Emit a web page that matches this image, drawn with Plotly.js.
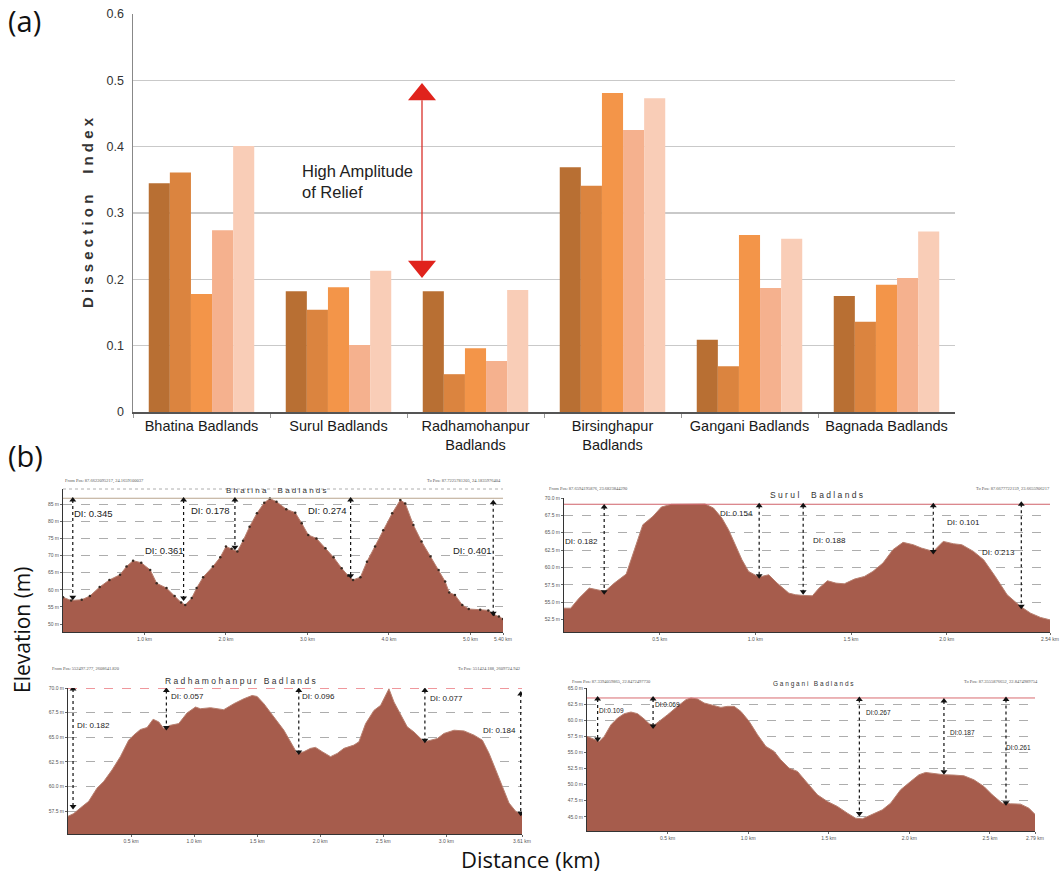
<!DOCTYPE html>
<html>
<head>
<meta charset="utf-8">
<script src="https://cdn.plot.ly/plotly-3.0.1.min.js"></script>
<style>html,body{margin:0;padding:0;background:#fff;}#chart{width:1060px;height:874px;}</style>
</head>
<body>
<div id="chart"></div>
<script>
// ---------- (a) Dissection Index bar chart ----------
const categories = ['Bhatina Badlands','Surul Badlands','Radhamohanpur<br>Badlands','Birsinghapur<br>Badlands','Gangani Badlands','Bagnada Badlands'];
const series1 = [0.345, 0.182, 0.182, 0.369, 0.109, 0.175];
const series2 = [0.361, 0.154, 0.057, 0.341, 0.069, 0.136];
const series3 = [0.178, 0.188, 0.096, 0.481, 0.267, 0.192];
const series4 = [0.274, 0.101, 0.077, 0.425, 0.187, 0.202];
const series5 = [0.401, 0.213, 0.184, 0.473, 0.261, 0.272];
const yTicks = [0, 0.1, 0.2, 0.3, 0.4, 0.5, 0.6];
const yTickLabels = ['0', '0.1', '0.2', '0.3', '0.4', '0.5', '0.6'];
const reliefLow = 0.202, reliefHigh = 0.496;

// ---------- (b) Elevation profiles ----------
// Bhatina Badlands
const bhatinaKm = [0,0.10,0.23,0.33,0.45,0.57,0.70,0.78,0.86,0.96,1.07,1.15,1.27,1.37,1.45,1.50,1.58,1.64,1.72,1.84,1.93,2.00,2.07,2.14,2.21,2.29,2.38,2.47,2.54,2.62,2.74,2.85,2.93,3.01,3.11,3.22,3.32,3.42,3.50,3.56,3.65,3.73,3.83,3.93,4.04,4.14,4.20,4.30,4.40,4.51,4.61,4.69,4.74,4.81,4.90,4.98,5.12,5.22,5.29,5.35,5.40];
const bhatinaElev = [57.8,56.9,57.1,58.2,60.8,62.9,64.4,66.8,68.5,67.9,65.8,61.9,60.5,58.2,56.3,55.6,57.6,60.5,63.7,66.8,69.5,72.6,72.0,71.2,74.3,78.4,82.3,85.4,86.6,85.7,83.5,82.5,79.4,76.0,75.0,72.1,69.5,66.3,64.1,62.9,63.7,68.2,72.6,77.4,82.3,86.2,85.2,78.9,74.1,69.7,65.8,62.4,59.2,58.5,55.6,54.4,54.2,54.0,52.7,52.2,51.5];
const bhatinaMax = 86.7;
const bhatinaDI = ['DI: 0.345','DI: 0.361','DI: 0.178','DI: 0.274','DI: 0.401'];
const bhatinaArrowKm = [0.12, 1.48, 2.11, 3.53, 5.28];
const bhatinaArrowTop = [86.2, 86.2, 86.2, 86.2, 85.4];
const bhatinaArrowLow = [57.8, 57.6, 72.4, 64.1, 53.2];
const bhatinaLabelKm = [0.37, 1.25, 1.81, 3.24, 5.02];
const bhatinaLabelElev = [82.3, 71.6, 83.0, 83.0, 71.6];
const bhatinaYTicks = [50,55,60,65,70,75,80,85];
const bhatinaXTicks = [1,2,3,4,5,5.4];
const bhatinaXLabels = ['1.0 km','2.0 km','3.0 km','4.0 km','5.0 km','5.40 km'];

// Surul Badlands
const surulKm = [0,0.035,0.079,0.132,0.175,0.214,0.263,0.325,0.368,0.412,0.465,0.509,0.561,0.632,0.737,0.781,0.825,0.860,0.895,0.930,0.965,1.018,1.070,1.114,1.175,1.211,1.254,1.298,1.333,1.377,1.421,1.465,1.518,1.570,1.614,1.667,1.719,1.772,1.825,1.868,1.930,1.982,2.035,2.079,2.140,2.193,2.254,2.316,2.386,2.439,2.491,2.54];
const surulElev = [54.13,54.13,55.58,57.02,56.78,56.54,57.74,59.04,62.55,66.15,67.36,68.70,69.09,69.13,69.13,68.56,67.12,65.43,63.27,61.11,59.42,58.61,58.94,57.74,56.30,56.06,55.96,55.91,57.02,58.08,57.74,57.64,58.32,58.70,59.42,60.63,62.55,63.61,63.27,62.79,62.31,63.75,63.41,63.27,62.31,61.11,58.70,56.06,54.38,53.41,52.79,52.45];
const surulMax = 69.1;
const surulDI = ['DI: 0.182','DI: 0.154','DI: 0.188','DI: 0.101','DI: 0.213'];
const surulArrowKm = [0.21, 1.02, 1.25, 1.93, 2.39];
const surulArrowTop = [68.7, 68.9, 68.9, 68.9, 69.1];
const surulArrowLow = [56.5, 58.8, 56.5, 62.3, 54.4];
const surulLabelKm = [0.09, 0.90, 1.39, 2.09, 2.27];
const surulLabelElev = [63.75, 67.84, 63.85, 66.54, 62.16];
const surulYTicks = [52.5,55,57.5,60,62.5,65,67.5,70];
const surulYLabels = ['52.5 m','55.0 m','57.5 m','60.0 m','62.5 m','65.0 m','67.5 m','70.0 m'];
const surulXTicks = [0.5,1.0,1.5,2.0,2.54];
const surulXLabels = ['0.5 km','1.0 km','1.5 km','2.0 km','2.54 km'];

// Radhamohanpur Badlands
const radhaKm = [0,0.045,0.098,0.164,0.230,0.283,0.349,0.415,0.481,0.521,0.574,0.627,0.675,0.720,0.759,0.812,0.878,0.944,1.011,1.050,1.130,1.183,1.235,1.315,1.394,1.460,1.500,1.553,1.632,1.712,1.817,1.870,1.923,1.963,2.016,2.082,2.135,2.188,2.267,2.307,2.360,2.426,2.479,2.545,2.585,2.638,2.690,2.743,2.823,2.876,2.929,2.981,3.021,3.061,3.140,3.220,3.286,3.339,3.392,3.444,3.497,3.550,3.603];
const radhaElev = [56.99,57.27,57.84,58.51,59.85,60.52,61.69,63.04,64.71,65.22,65.79,65.99,66.83,66.56,65.89,66.22,66.39,67.47,68.07,67.90,68.00,67.90,67.80,68.41,68.91,69.24,69.14,68.41,67.06,65.72,63.37,63.54,63.88,63.98,63.54,63.04,63.37,63.88,64.21,64.55,66.39,67.73,68.24,69.92,68.57,67.23,66.06,65.55,64.55,64.71,64.88,65.39,65.55,65.72,65.65,65.22,64.71,63.37,61.69,60.02,58.34,57.50,57.16];
const radhaMax = 70.0;
const radhaDI = ['DI: 0.182','DI: 0.057','DI: 0.096','DI: 0.077','DI: 0.184'];
const radhaArrowKm = [0.04, 0.78, 1.83, 2.83, 3.59];
const radhaArrowTop = [69.9, 69.75, 69.75, 69.75, 69.4];
const radhaArrowLow = [58.0, 66.0, 63.5, 64.7, 57.3];
const radhaLabelKm = [0.20, 0.95, 1.99, 3.00, 3.42];
const radhaLabelElev = [66.22, 69.14, 69.14, 68.9, 65.65];
const radhaYTicks = [57.5,60,62.5,65,67.5,70];
const radhaYLabels = ['57.5 m','60.0 m','62.5 m','65.0 m','67.5 m','70.0 m'];
const radhaXTicks = [0.5,1.0,1.5,2.0,2.5,3.0,3.6];
const radhaXLabels = ['0.5 km','1.0 km','1.5 km','2.0 km','2.5 km','3.0 km','3.61 km'];

// Gangani Badlands
const ganganiKm = [0,0.045,0.076,0.107,0.149,0.190,0.231,0.273,0.314,0.355,0.386,0.413,0.448,0.500,0.562,0.614,0.645,0.686,0.727,0.789,0.831,0.872,0.913,0.955,1.006,1.058,1.110,1.161,1.202,1.254,1.306,1.368,1.430,1.492,1.554,1.616,1.667,1.709,1.740,1.781,1.833,1.884,1.946,2.008,2.060,2.101,2.153,2.215,2.277,2.339,2.401,2.463,2.515,2.576,2.628,2.690,2.742,2.783];
const ganganiElev = [57.49,56.97,56.71,57.49,59.30,60.34,61.01,61.27,61.01,60.18,59.46,59.15,59.82,60.85,62.15,63.19,63.45,63.29,62.67,62.25,61.99,62.15,62.15,61.37,59.82,57.75,55.93,55.16,53.86,52.56,52.05,50.23,48.42,47.38,46.61,45.57,44.79,44.69,45.05,45.57,46.09,47.12,49.20,50.49,51.53,51.89,51.68,51.53,51.48,51.37,50.75,49.72,48.42,47.12,47.02,46.97,46.35,45.31];
const ganganiMax = 63.45;
const ganganiDI = ['DI:0.109','DI:0.069','DI:0.267','DI:0.187','DI:0.261'];
const ganganiArrowKm = [0.066, 0.41, 1.69, 2.215, 2.60];
const ganganiArrowTop = [63.3, 63.3, 63.2, 63.0, 63.2];
const ganganiArrowLow = [57.1, 59.1, 45.5, 52.0, 47.2];
const ganganiLabelKm = [0.155, 0.50, 1.806, 2.33, 2.68];
const ganganiLabelElev = [61.48, 62.41, 61.22, 58.1, 55.83];
const ganganiYTicks = [45,47.5,50,52.5,55,57.5,60,62.5,65];
const ganganiYLabels = ['45.0 m','47.5 m','50.0 m','52.5 m','55.0 m','57.5 m','60.0 m','62.5 m','65.0 m'];
const ganganiXTicks = [0.5,1.0,1.5,2.0,2.5,2.78];
const ganganiXLabels = ['0.5 km','1.0 km','1.5 km','2.0 km','2.5 km','2.79 km'];

// ---------- build ----------
const W = 1060, H = 874;
const px = v => v / W;
const py = v => 1 - v / H;
const barColors = ['#B86F33', '#DB843F', '#F39549', '#F5B18E', '#F9CDB7'];
const FONT = 'Liberation Sans, Arial, sans-serif';
const OPEN = 'Open Sans, sans-serif';

const traces = [];
[series1, series2, series3, series4, series5].forEach((s, i) => {
  traces.push({type: 'bar', x: categories, y: s, marker: {color: barColors[i], line: {width: 0}},
    xaxis: 'x', yaxis: 'y', showlegend: false, hoverinfo: 'skip'});
});

const areaFill = '#A65C4C';
const panels = [
  {ax: 2, km: bhatinaKm, el: bhatinaElev, max: bhatinaMax, maxColor: '#b9a58f', maxDash: 'solid', di: bhatinaDI,
   aK: bhatinaArrowKm, aT: bhatinaArrowTop, aL: bhatinaArrowLow, lK: bhatinaLabelKm, lE: bhatinaLabelElev, fs: 9.5, dots: true},
  {ax: 3, km: surulKm, el: surulElev, max: surulMax, maxColor: '#d0626a', maxDash: 'solid', di: surulDI,
   aK: surulArrowKm, aT: surulArrowTop, aL: surulArrowLow, lK: surulLabelKm, lE: surulLabelElev, fs: 8, dots: false},
  {ax: 4, km: radhaKm, el: radhaElev, max: radhaMax, maxColor: '#e0303a', maxDash: 'dash', di: radhaDI,
   aK: radhaArrowKm, aT: radhaArrowTop, aL: radhaArrowLow, lK: radhaLabelKm, lE: radhaLabelElev, fs: 8, dots: false},
  {ax: 5, km: ganganiKm, el: ganganiElev, max: ganganiMax, maxColor: '#d86a70', maxDash: 'solid', di: ganganiDI,
   aK: ganganiArrowKm, aT: ganganiArrowTop, aL: ganganiArrowLow, lK: ganganiLabelKm, lE: ganganiLabelElev, fs: 6.5, dots: false}
];

const annotations = [];
panels.forEach(p => {
  const xa = 'x' + p.ax, ya = 'y' + p.ax;
  traces.push({type: 'scatter', x: p.km, y: p.el, xaxis: xa, yaxis: ya, mode: p.dots ? 'lines+markers' : 'lines',
    fill: 'tozeroy', fillcolor: areaFill, line: {color: '#b88070', width: 1},
    marker: {size: 2.5, color: '#3a2a22'}, showlegend: false, hoverinfo: 'skip'});
  traces.push({type: 'scatter', x: [p.km[0], p.km[p.km.length - 1]], y: [p.max, p.max], xaxis: xa, yaxis: ya,
    mode: 'lines', line: {color: p.maxColor, width: 1, dash: p.maxDash}, showlegend: false, hoverinfo: 'skip'});
  p.aK.forEach((k, i) => {
    traces.push({type: 'scatter', x: [k, k], y: [p.aT[i], p.aL[i]], xaxis: xa, yaxis: ya, mode: 'lines+markers',
      line: {color: '#111', width: 1.2, dash: 'dot'},
      marker: {symbol: ['triangle-up', 'triangle-down'], size: 6, color: '#111'}, showlegend: false, hoverinfo: 'skip'});
    annotations.push({xref: xa, yref: ya, x: p.lK[i], y: p.lE[i], text: p.di[i], showarrow: false,
      font: {family: FONT, size: p.fs, color: '#222'}});
  });
});

function profAxes(domX, domY, range, ticks) {
  return {
    x: {domain: domX, range: range.x, showgrid: false, zeroline: false, showline: true, linecolor: '#333', linewidth: 1,
        tickmode: 'array', tickvals: ticks.x, ticktext: ticks.xl, ticks: 'outside', ticklen: 2, tickcolor: '#666',
        tickfont: {family: FONT, size: 5, color: '#555'}, fixedrange: true},
    y: {domain: domY, range: range.y, showgrid: true, gridcolor: '#8a8a8a', gridwidth: 0.7, griddash: 'dash',
        zeroline: false, showline: true, linecolor: '#333', linewidth: 1,
        tickmode: 'array', tickvals: ticks.y, ticktext: ticks.yl, ticks: 'outside', ticklen: 2, tickcolor: '#666',
        tickfont: {family: FONT, size: 5, color: '#555'}, fixedrange: true}
  };
}
const p1 = profAxes([px(63), px(503)], [py(632), py(489)], {x: [0, 5.4], y: [47.7, 89.4]},
  {x: bhatinaXTicks, xl: bhatinaXLabels, y: bhatinaYTicks, yl: bhatinaYTicks.map(v => v + ' m')});
const p2 = profAxes([px(564), px(1050)], [py(632), py(498)], {x: [0, 2.54], y: [50.7, 70.0]},
  {x: surulXTicks, xl: surulXLabels, y: surulYTicks, yl: surulYLabels});
const p3 = profAxes([px(68), px(522)], [py(834), py(688)], {x: [0, 3.6], y: [55.2, 70.0]},
  {x: radhaXTicks, xl: radhaXLabels, y: radhaYTicks, yl: radhaYLabels});
const p4 = profAxes([px(587), px(1035)], [py(831), py(688)], {x: [0, 2.78], y: [42.8, 65.0]},
  {x: ganganiXTicks, xl: ganganiXLabels, y: ganganiYTicks, yl: ganganiYLabels});

const paperText = (x, y, text, size, opts = {}) => Object.assign({xref: 'paper', yref: 'paper', x: px(x), y: py(y), text: text,
  showarrow: false, font: {family: FONT, size: size, color: '#222'}, xanchor: 'center', yanchor: 'middle'}, opts);

annotations.push(paperText(6, 20, '(a)', 29, {xanchor: 'left', font: {family: OPEN, size: 29, color: '#111'}}));
annotations.push(paperText(6, 455, '(b)', 29, {xanchor: 'left', font: {family: OPEN, size: 29, color: '#111'}}));
annotations.push(paperText(88, 213, 'D i s s e c t i o n     I n d e x', 15, {textangle: -90, font: {family: FONT, size: 15, color: '#333', weight: 'bold'}}));
annotations.push(paperText(300, 181, 'High Amplitude<br>of Relief', 16.5, {xanchor: 'left', align: 'left', font: {family: FONT, size: 16.5, color: '#222'}}));
annotations.push(paperText(22, 630, 'Elevation (m)', 21, {textangle: -90, font: {family: OPEN, size: 21, color: '#111'}}));
annotations.push(paperText(530, 859, 'Distance (km)', 22, {font: {family: OPEN, size: 22, color: '#111'}}));

annotations.push(paperText(276, 490, 'B h a t i n a     B a d l a n d s', 8, {font: {family: FONT, size: 8, color: '#333'}}));
annotations.push(paperText(816, 495, 'S u r u l     B a d l a n d s', 8.5, {font: {family: FONT, size: 8.5, color: '#333'}}));
annotations.push(paperText(240, 681, 'R a d h a m o h a n p u r   B a d l a n d s', 8.5, {font: {family: FONT, size: 8.5, color: '#333'}}));
annotations.push(paperText(813, 684, 'G a n g a n i   B a d l a n d s', 6.5, {font: {family: FONT, size: 6.5, color: '#333'}}));

const posFont = {family: 'Liberation Serif, serif', size: 4.5, color: '#555'};
annotations.push(paperText(63, 481, 'From Pos: 87.6622095217, 24.1659100037', 4.5, {xanchor: 'left', font: posFont}));
annotations.push(paperText(503, 481, 'To Pos: 87.7225781205, 24.1835976404', 4.5, {xanchor: 'right', font: posFont}));
annotations.push(paperText(547, 489, 'From Pos: 87.6594195876, 23.6823844290', 4.5, {xanchor: 'left', font: posFont}));
annotations.push(paperText(1052, 489, 'To Pos: 87.6677722159, 23.6655906217', 4.5, {xanchor: 'right', font: posFont}));
annotations.push(paperText(50, 669, 'From Pos: 552497.277, 2608641.820', 4.5, {xanchor: 'left', font: posFont}));
annotations.push(paperText(522, 669, 'To Pos: 551424.188, 2609724.942', 4.5, {xanchor: 'right', font: posFont}));
annotations.push(paperText(570, 682, 'From Pos: 87.3394059865, 22.8472497730', 4.5, {xanchor: 'left', font: posFont}));
annotations.push(paperText(1040, 682, 'To Pos: 87.3555876652, 22.8474989754', 4.5, {xanchor: 'right', font: posFont}));

const arrowX = 422, halfW = 14, headH = 0.026;
const shapes = [
  {type: 'line', xref: 'paper', yref: 'y', x0: px(arrowX), x1: px(arrowX), y0: reliefLow + headH, y1: reliefHigh - headH,
   line: {color: '#D9302A', width: 1.3}},
  {type: 'path', xref: 'paper', yref: 'y',
   path: `M ${px(arrowX - halfW)} ${reliefHigh - headH} L ${px(arrowX + halfW)} ${reliefHigh - headH} L ${px(arrowX)} ${reliefHigh} Z`,
   fillcolor: '#E0231C', line: {width: 0}},
  {type: 'path', xref: 'paper', yref: 'y',
   path: `M ${px(arrowX - halfW)} ${reliefLow + headH} L ${px(arrowX + halfW)} ${reliefLow + headH} L ${px(arrowX)} ${reliefLow} Z`,
   fillcolor: '#E0231C', line: {width: 0}},
  {type: 'line', xref: 'paper', yref: 'paper', x0: px(63), x1: px(503), y0: py(489), y1: py(489), line: {color: '#999', width: 0.8, dash: 'dot'}}
];

const layout = {
  width: W, height: H,
  margin: {l: 0, r: 0, t: 0, b: 0},
  paper_bgcolor: '#fff', plot_bgcolor: 'rgba(0,0,0,0)',
  barmode: 'group', bargap: 0.23, bargroupgap: 0,
  showlegend: false,
  font: {family: FONT},
  xaxis: {domain: [px(133), px(955)], type: 'category', showgrid: false, zeroline: false,
    showline: true, linecolor: '#555', linewidth: 2, ticks: 'outside', tickson: 'boundaries', ticklen: 4, tickcolor: '#999',
    tickfont: {family: FONT, size: 14.5, color: '#1a1a1a'}, fixedrange: true},
  yaxis: {domain: [py(412), py(14)], range: [0, 0.6], tickmode: 'array', tickvals: yTicks, ticktext: yTickLabels,
    showgrid: true, gridcolor: '#c9c9c9', gridwidth: 1.5, zeroline: false, showline: true, linecolor: '#888', linewidth: 1.5,
    ticks: '', ticklabelstandoff: 5, tickfont: {family: FONT, size: 12.5, color: '#333'}, fixedrange: true},
  xaxis2: Object.assign(p1.x, {anchor: 'y2'}), yaxis2: Object.assign(p1.y, {anchor: 'x2'}),
  xaxis3: Object.assign(p2.x, {anchor: 'y3'}), yaxis3: Object.assign(p2.y, {anchor: 'x3'}),
  xaxis4: Object.assign(p3.x, {anchor: 'y4'}), yaxis4: Object.assign(p3.y, {anchor: 'x4'}),
  xaxis5: Object.assign(p4.x, {anchor: 'y5'}), yaxis5: Object.assign(p4.y, {anchor: 'x5'}),
  annotations: annotations,
  shapes: shapes
};

Plotly.newPlot('chart', traces, layout, {staticPlot: true, displayModeBar: false});
</script>
</body>
</html>
